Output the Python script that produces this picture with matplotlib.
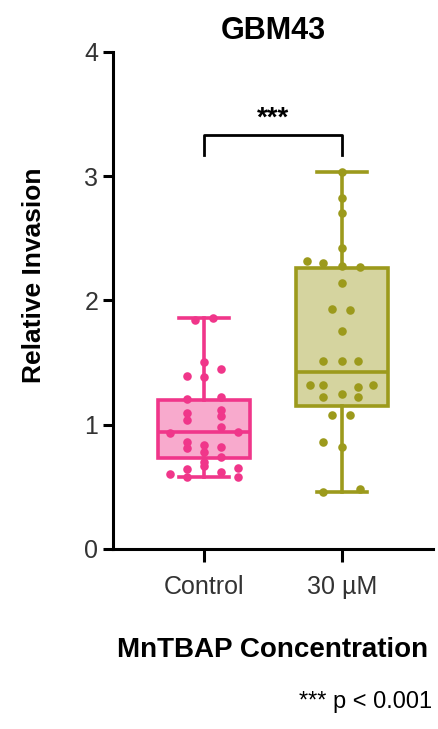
import numpy as np
import matplotlib.pyplot as plt

plt.rcParams['font.family'] = ['Liberation Sans', 'DejaVu Sans']

groups = ['Control', '30 µM']
pink = '#f0368a'
olive = '#9c9a1c'

# individual points (value, x offset in px from group centre)
ctrl_vals = [1.84, 1.86, 1.50, 1.45, 1.39, 1.38, 1.21, 1.22, 1.09, 1.04,
             1.12, 1.07, 0.98, 0.94, 0.93, 0.86, 0.84, 0.81, 0.82, 0.74,
             0.78, 0.64, 0.67, 0.62, 0.60, 0.65, 0.58, 0.58, 0.70]
ctrl_off = [-9, 9, 0, 17, -17, 0, -17, 17, -17, -17,
            17, 17, 17, 34, -34, -17, 0, -17, 17, 17,
            0, -17, 0, 17, -34, 34, 34, -17, 0]
trt_vals = [3.03, 2.82, 2.70, 2.42, 2.32, 2.30, 2.28, 2.27, 2.14, 1.93,
            1.92, 1.75, 1.51, 1.51, 1.51, 1.32, 1.32, 1.30, 1.32, 1.25,
            1.22, 1.22, 1.08, 1.08, 0.86, 0.82, 0.46, 0.48]
trt_off = [0, 0, 0, 0, -35, -19, 0, 18, 0, -10,
           8, 0, -19, 0, 16, -32, -19, 16, 31, 0,
           -19, 16, -10, 8, -19, 0, -19, 18]

# box summary
whislo = [0.58, 0.46]
q1 = [0.73, 1.15]
med = [0.94, 1.42]
q3 = [1.20, 2.26]
whishi = [1.86, 3.03]

fig = plt.figure(figsize=(4.39, 7.29), dpi=100)
ax = fig.add_axes([0.257, 0.247, 0.729, 0.682])

px = 1 / 138.0
for i, (vals, off, c) in enumerate([(ctrl_vals, ctrl_off, pink), (trt_vals, trt_off, olive)]):
    xs = i + 1 + np.array(off) * px
    ax.scatter(xs, vals, s=38, color=c, zorder=2, linewidths=0)

stats = []
for i in range(2):
    stats.append(dict(whislo=whislo[i], q1=q1[i], med=med[i], q3=q3[i],
                      whishi=whishi[i], fliers=[], label=groups[i]))
bp = ax.bxp(stats, positions=[1, 2], widths=0.667, patch_artist=True,
            showfliers=False, capwidths=0.36)
for i, c in enumerate([pink, olive]):
    bp['boxes'][i].set(facecolor=(plt.matplotlib.colors.to_rgba(c, 0.42)),
                       edgecolor=c, linewidth=2.6, zorder=3)
    bp['medians'][i].set(color=c, linewidth=2.6, zorder=4)
    for k in (2 * i, 2 * i + 1):
        bp['whiskers'][k].set(color=c, linewidth=2.6, zorder=4)
        bp['caps'][k].set(color=c, linewidth=2.6, zorder=4)

# significance bracket
ax.plot([1, 1, 2, 2], [3.17, 3.33, 3.33, 3.17], color='black', lw=2, clip_on=False)
ax.text(1.5, 3.36, '***', ha='center', va='bottom', fontsize=20, fontweight='bold')

ax.set_xlim(0.341, 2.659)
ax.set_ylim(0, 4)
ax.set_yticks([0, 1, 2, 3, 4])
ax.set_xticks([1, 2])
ax.set_xticklabels(groups)
ax.spines['top'].set_visible(False)
ax.spines['right'].set_visible(False)
ax.spines['left'].set_linewidth(2.2)
ax.spines['bottom'].set_linewidth(2.2)
ax.tick_params(axis='both', width=2.2, length=7, labelsize=18, colors='black',
               labelcolor='#333333')
ax.tick_params(axis='x', length=9, pad=10)

ax.set_title('GBM43', fontsize=22, fontweight='bold', pad=9)
ax.set_ylabel('Relative Invasion', fontsize=19, fontweight='bold')
ax.yaxis.set_label_coords(-0.21, 0.55)
ax.set_xlabel('MnTBAP Concentration', fontsize=20, fontweight='bold', labelpad=27)

fig.text(0.985, 0.022, '*** p < 0.001', ha='right', va='bottom', fontsize=17)

fig.savefig('out.png', dpi=100)
